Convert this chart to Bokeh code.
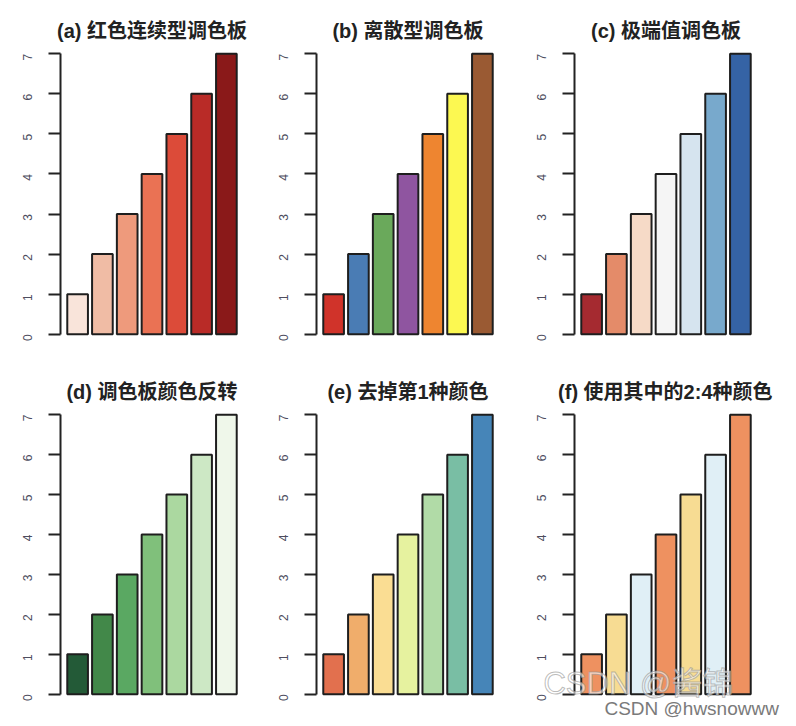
import math
from bokeh.plotting import figure
from bokeh.layouts import column, row
from bokeh.models import Label, FixedTicker
from bokeh.embed import file_html
from bokeh.resources import INLINE

# ---- data ----
values = [1, 2, 3, 4, 5, 6, 7]
y_ticks = [0, 1, 2, 3, 4, 5, 6, 7]
titles = ["(a) 红色连续型调色板", "(b) 离散型调色板", "(c) 极端值调色板",
          "(d) 调色板颜色反转", "(e) 去掉第1种颜色", "(f) 使用其中的2:4种颜色"]
reds = ["#f9e4da", "#f0bca5", "#ee9a7c", "#ea7254", "#dc4b39", "#b92b27", "#8a1919"]
set1 = ["#d0332a", "#4a7cb4", "#6aa95b", "#8f55a0", "#ee8530", "#fcf851", "#9a5a33"]
rdbu = ["#a52a30", "#e48b69", "#f6dac7", "#f5f5f5", "#d6e4ef", "#78a9cc", "#3563a5"]
greens_rev = ["#235a37", "#428849", "#5aa862", "#80c07b", "#abd8a0", "#cde8c5", "#eff7ea"]
spectral_no1 = ["#e2704e", "#f0ad6b", "#fadd93", "#e6f29f", "#b1dba7", "#79bea4", "#4685b8"]
rdylbu_2to4 = ["#ee9160", "#f7dc93", "#e0eff6"]
palettes = [reds, set1, rdbu, greens_rev, spectral_no1, rdylbu_2to4]
watermark_big = "CSDN @酱锦"
watermark_small = "CSDN @hwsnowww"

FONT = "Liberation Sans, Noto Sans CJK SC, sans-serif"

# R barplot geometry: width 1, space 0.2, 4% axis padding
centers = [0.7 + 1.2 * i for i in range(len(values))]
x_lo, x_hi = 0.2 - 0.04 * 8.2, 8.4 + 0.04 * 8.2
y_lo, y_hi = -0.04 * 7, 7 + 0.04 * 7

FRAME_W = 183
col_geom = [(257, 60, 14), (257, 59, 15), (282, 60, 39)]
# (fig height, top border, bottom border of the R plot region)
row_geom = [(361, 42, 16), (365, 42, 21)]


def style_axis(ax):
    ax.ticker = FixedTicker(ticks=y_ticks)
    ax.bounds = (0, 7)
    ax.axis_line_width = 2
    ax.axis_line_color = "#222222"
    ax.major_tick_line_width = 2
    ax.major_tick_line_color = "#222222"
    ax.major_tick_out = 12
    ax.major_tick_in = 0
    ax.minor_tick_out = 0
    ax.minor_tick_in = 0
    ax.major_label_orientation = math.pi / 2
    ax.major_label_text_font_size = "12px"
    ax.major_label_text_font = FONT
    ax.major_label_text_color = "#4d4d5e"
    ax.major_label_standoff = 21


def make_panel(k):
    r, c = divmod(k, 3)
    w, bl, br = col_geom[c]
    h, bt, bb = row_geom[r]
    xr = (x_lo, x_hi)
    yr = (y_lo, y_hi)
    last = (k == 5)
    if r == 1:
        # frame extended down to the canvas bottom, same scale
        ys = (y_hi - y_lo) / (h - bt - bb)
        yr = (y_hi - (h - bt) * ys, y_hi)
        bb = 0
    if last:
        # frame widened to the whole canvas width; axis pinned at x_lo
        xs = (x_hi - x_lo) / FRAME_W
        xr = (x_lo - bl * xs, x_lo - bl * xs + w * xs)
        bl, br = 0, 0
    p = figure(width=w, height=h, x_range=xr, y_range=yr,
               x_axis_location=None, output_backend="svg", toolbar_location=None,
               min_border_left=bl, min_border_right=br, min_border_top=bt,
               min_border_bottom=bb, outline_line_color=None,
               background_fill_color="white", border_fill_color="white")
    p.grid.visible = False
    pal = palettes[k]
    cols = [pal[i % len(pal)] for i in range(len(values))]
    p.vbar(x=centers, top=values, bottom=0, width=1.0, fill_color=cols,
           line_color="#1e1e1e", line_width=2)
    ax = p.yaxis[0]
    style_axis(ax)
    if last:
        ax.fixed_location = x_lo
    p.title.text = titles[k]
    p.title.text_font = FONT
    p.title.text_font_size = "20px"
    p.title.text_font_style = "bold"
    p.title.text_color = "#222222"
    p.title.standoff = 2
    if last:
        p.title.align = "right"
        p.title.offset = 24
    else:
        p.title.align = "center"
    return p


panels = [make_panel(k) for k in range(6)]

pf = panels[5]
pf.add_layout(Label(x=-1.63, y=0.27, text=watermark_big, text_font=FONT,
                    text_font_size="31px", text_baseline="middle",
                    text_color="white", text_alpha=0.6,
                    text_outline_color="#8f8f8f", level="overlay"))
pf.add_layout(Label(x=1.32, y=-0.355, text=watermark_small, text_font=FONT,
                    text_font_size="19px", text_baseline="middle",
                    text_color="#7a7a7a", level="overlay"))

layout = column(row(*panels[:3]), row(*panels[3:]))
open("out.html", "w").write(file_html(layout, INLINE))
